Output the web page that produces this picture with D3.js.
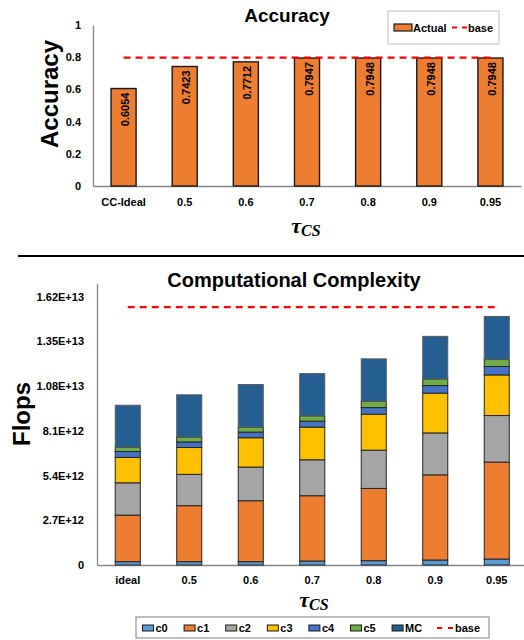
<!DOCTYPE html>
<html>
<head>
<meta charset="utf-8">
<script src="https://cdn.jsdelivr.net/npm/d3@7"></script>
<style>
  html, body { margin: 0; padding: 0; background: #fff; }
  svg { display: block; font-family: "Liberation Sans", Arial, sans-serif; }
</style>
</head>
<body>
<svg id="chart" width="524" height="640"></svg>
<script>
// ---- Accuracy panel data ----
const accCategories = ["CC-Ideal", "0.5", "0.6", "0.7", "0.8", "0.9", "0.95"];
const accValues = [0.6054, 0.7423, 0.7712, 0.7947, 0.7948, 0.7948, 0.7948];
const accBase = 0.797;
const accTicks = [0, 0.2, 0.4, 0.6, 0.8, 1];

// ---- Computational complexity panel data (Flops per component) ----
const flopCategories = ["ideal", "0.5", "0.6", "0.7", "0.8", "0.9", "0.95"];
const seriesNames = ["c0", "c1", "c2", "c3", "c4", "c5", "MC"];
const c0 = [0.20e12, 0.20e12, 0.20e12, 0.24e12, 0.26e12, 0.30e12, 0.36e12];
const c1 = [2.81e12, 3.38e12, 3.68e12, 3.94e12, 4.36e12, 5.14e12, 5.85e12];
const c2 = [1.95e12, 1.89e12, 2.03e12, 2.17e12, 2.31e12, 2.53e12, 2.81e12];
const c3 = [1.53e12, 1.62e12, 1.77e12, 1.97e12, 2.17e12, 2.40e12, 2.45e12];
const c4 = [0.36e12, 0.34e12, 0.34e12, 0.36e12, 0.40e12, 0.46e12, 0.51e12];
const c5 = [0.26e12, 0.29e12, 0.30e12, 0.32e12, 0.38e12, 0.40e12, 0.42e12];
const MC = [2.53e12, 2.55e12, 2.57e12, 2.55e12, 2.56e12, 2.57e12, 2.60e12];
const flopBase = 1.556e13;
const flopTicks = [0, 2.7e12, 5.4e12, 8.1e12, 1.08e13, 1.35e13, 1.62e13];
const flopTickLabels = ["0", "2.7E+12", "5.4E+12", "8.1E+12", "1.08E+13", "1.35E+13", "1.62E+13"];

const seriesColors = {
  c0: "#5B9BD5", c1: "#ED7D31", c2: "#A5A5A5", c3: "#FFC000",
  c4: "#4472C4", c5: "#70AD47", MC: "#255E91"
};

const svg = d3.select("#chart");
const axisColor = "#868686";
const tickFont = "bold 11px 'Liberation Sans', Arial, sans-serif";

// italic bold tau with the CS subscript
function tauLabel(g, x, y) {
  const t = g.append("text")
    .attr("x", x).attr("y", y)
    .attr("text-anchor", "middle")
    .style("font-family", "'Liberation Serif', 'DejaVu Serif', serif")
    .style("font-style", "italic")
    .style("font-weight", "bold");
  t.append("tspan").attr("font-size", 22).text("τ");
  t.append("tspan").attr("font-size", 16).attr("dy", 3).text("CS");
}

// =================== Accuracy ===================
{
  const g = svg.append("g");
  const x = d3.scaleBand().domain(accCategories).range([93, 521]).paddingInner(0.59).paddingOuter(0.295);
  const y = d3.scaleLinear().domain([0, 1]).range([186, 25]);

  g.append("text").attr("x", 287).attr("y", 22).attr("text-anchor", "middle")
    .style("font", "bold 19px 'Liberation Sans', Arial, sans-serif").text("Accuracy");

  g.append("text").attr("transform", "translate(58,94) rotate(-90)")
    .attr("text-anchor", "middle")
    .style("font", "bold 24px 'Liberation Sans', Arial, sans-serif").text("Accuracy");

  // y axis
  const yAxis = g.append("g").attr("transform", "translate(93,0)")
    .call(d3.axisLeft(y).tickValues(accTicks).tickSize(0).tickPadding(12)
      .tickFormat(d => d === 0 ? "0" : d3.format("")(d)));
  yAxis.select(".domain").attr("stroke", axisColor).attr("stroke-width", 1.3);
  yAxis.selectAll("text").style("font", tickFont).attr("fill", "#000");

  // x axis
  const xAxis = g.append("g").attr("transform", "translate(0,186)")
    .call(d3.axisBottom(x).tickSize(0).tickPadding(12));
  xAxis.select(".domain").attr("stroke", axisColor).attr("stroke-width", 1.3);
  xAxis.selectAll("text").style("font", tickFont).attr("fill", "#000");

  // bars
  g.selectAll("rect.bar").data(accValues).join("rect").attr("class", "bar")
    .attr("x", (d, i) => x(accCategories[i]))
    .attr("y", d => y(d))
    .attr("width", x.bandwidth())
    .attr("height", d => y(0) - y(d))
    .attr("fill", "#ED7D31").attr("stroke", "#1a1a1a").attr("stroke-width", 1.4);

  // value labels, written upward inside each bar
  g.selectAll("text.val").data(accValues).join("text").attr("class", "val")
    .attr("transform", (d, i) => `translate(${x(accCategories[i]) + x.bandwidth() / 2 + 5.5},${y(d) + 4}) rotate(-90)`)
    .attr("text-anchor", "end")
    .style("font", "bold 11px 'Liberation Sans', Arial, sans-serif")
    .text(d => d3.format(".4f")(d));

  // base line
  g.append("line")
    .attr("x1", x(accCategories[0]) + x.bandwidth() / 2)
    .attr("x2", x(accCategories[accCategories.length - 1]) + x.bandwidth() / 2)
    .attr("y1", y(accBase)).attr("y2", y(accBase))
    .attr("stroke", "#FF0000").attr("stroke-width", 2.2).attr("stroke-dasharray", "7,5");

  // legend
  const lg = g.append("g");
  lg.append("rect").attr("x", 388).attr("y", 11).attr("width", 111).attr("height", 33)
    .attr("fill", "#fff").attr("stroke", "#bfbfbf").attr("stroke-width", 1);
  lg.append("rect").attr("x", 394).attr("y", 24).attr("width", 18).attr("height", 7)
    .attr("fill", "#ED7D31").attr("stroke", "#1a1a1a").attr("stroke-width", 1.2);
  lg.append("text").attr("x", 413).attr("y", 31.5).style("font", tickFont).text("Actual");
  lg.append("line").attr("x1", 452).attr("x2", 467).attr("y1", 27.5).attr("y2", 27.5)
    .attr("stroke", "#FF0000").attr("stroke-width", 2.2).attr("stroke-dasharray", "5,5");
  lg.append("text").attr("x", 468).attr("y", 31.5).style("font", tickFont).text("base");

  tauLabel(g, 306, 233);
}

// separator
svg.append("line").attr("x1", 18).attr("x2", 524).attr("y1", 256).attr("y2", 256)
  .attr("stroke", "#000").attr("stroke-width", 2);

// =================== Computational Complexity ===================
{
  const g = svg.append("g");
  const x = d3.scaleBand().domain(flopCategories).range([97, 527.5]).paddingInner(0.593).paddingOuter(0.2965);
  const y = d3.scaleLinear().domain([0, 1.7e13]).range([565, 283.3]);

  g.append("text").attr("x", 294).attr("y", 287).attr("text-anchor", "middle")
    .style("font", "bold 20px 'Liberation Sans', Arial, sans-serif").text("Computational Complexity");

  g.append("text").attr("transform", "translate(30,414) rotate(-90)")
    .attr("text-anchor", "middle")
    .style("font", "bold 24px 'Liberation Sans', Arial, sans-serif").text("Flops");

  const yAxis = g.append("g").attr("transform", "translate(97,0)")
    .call(d3.axisLeft(y).tickValues(flopTicks).tickSize(0).tickPadding(13)
      .tickFormat((d, i) => flopTickLabels[i]));
  yAxis.select(".domain").attr("stroke", axisColor).attr("stroke-width", 1.3);
  yAxis.selectAll("text").style("font", tickFont).attr("fill", "#000");

  const xAxis = g.append("g").attr("transform", "translate(0,565)")
    .call(d3.axisBottom(x).tickSize(0).tickPadding(11));
  xAxis.select(".domain").attr("stroke", axisColor).attr("stroke-width", 1.3);
  xAxis.selectAll("text").style("font", tickFont).attr("fill", "#000");

  const seriesData = { c0, c1, c2, c3, c4, c5, MC };
  const rows = flopCategories.map((cat, i) => {
    const r = { cat };
    seriesNames.forEach(s => r[s] = seriesData[s][i]);
    return r;
  });
  const stacked = d3.stack().keys(seriesNames)(rows);

  g.selectAll("g.series").data(stacked).join("g").attr("class", "series")
    .attr("fill", d => seriesColors[d.key])
    .attr("stroke", d => d.key === "MC" ? "#5a5a5a" : "#262626")
    .selectAll("rect").data(d => d).join("rect")
    .attr("x", d => x(d.data.cat))
    .attr("y", d => y(d[1]))
    .attr("width", x.bandwidth())
    .attr("height", d => y(d[0]) - y(d[1]))
    .attr("stroke-width", 1);

  g.append("line")
    .attr("x1", x(flopCategories[0]) + x.bandwidth() / 2)
    .attr("x2", x(flopCategories[flopCategories.length - 1]) + x.bandwidth() / 2)
    .attr("y1", y(flopBase)).attr("y2", y(flopBase))
    .attr("stroke", "#FF0000").attr("stroke-width", 2.2).attr("stroke-dasharray", "7,5");

  tauLabel(g, 314, 607);

  // legend
  const lg = g.append("g");
  lg.append("rect").attr("x", 136).attr("y", 617).attr("width", 353).attr("height", 21)
    .attr("fill", "#fff").attr("stroke", "#7f7f7f").attr("stroke-width", 1);
  const step = 41.6;
  seriesNames.forEach((s, i) => {
    const lx = 142.5 + i * step;
    lg.append("rect").attr("x", lx).attr("y", 625).attr("width", 11).attr("height", 6)
      .attr("fill", seriesColors[s]).attr("stroke", "#1a1a1a").attr("stroke-width", 1);
    lg.append("text").attr("x", lx + 13).attr("y", 632).style("font", tickFont).text(s);
  });
  lg.append("line").attr("x1", 437).attr("x2", 453).attr("y1", 628).attr("y2", 628)
    .attr("stroke", "#FF0000").attr("stroke-width", 2.2).attr("stroke-dasharray", "5,6");
  lg.append("text").attr("x", 455).attr("y", 632).style("font", tickFont).text("base");
}
</script>
</body>
</html>
